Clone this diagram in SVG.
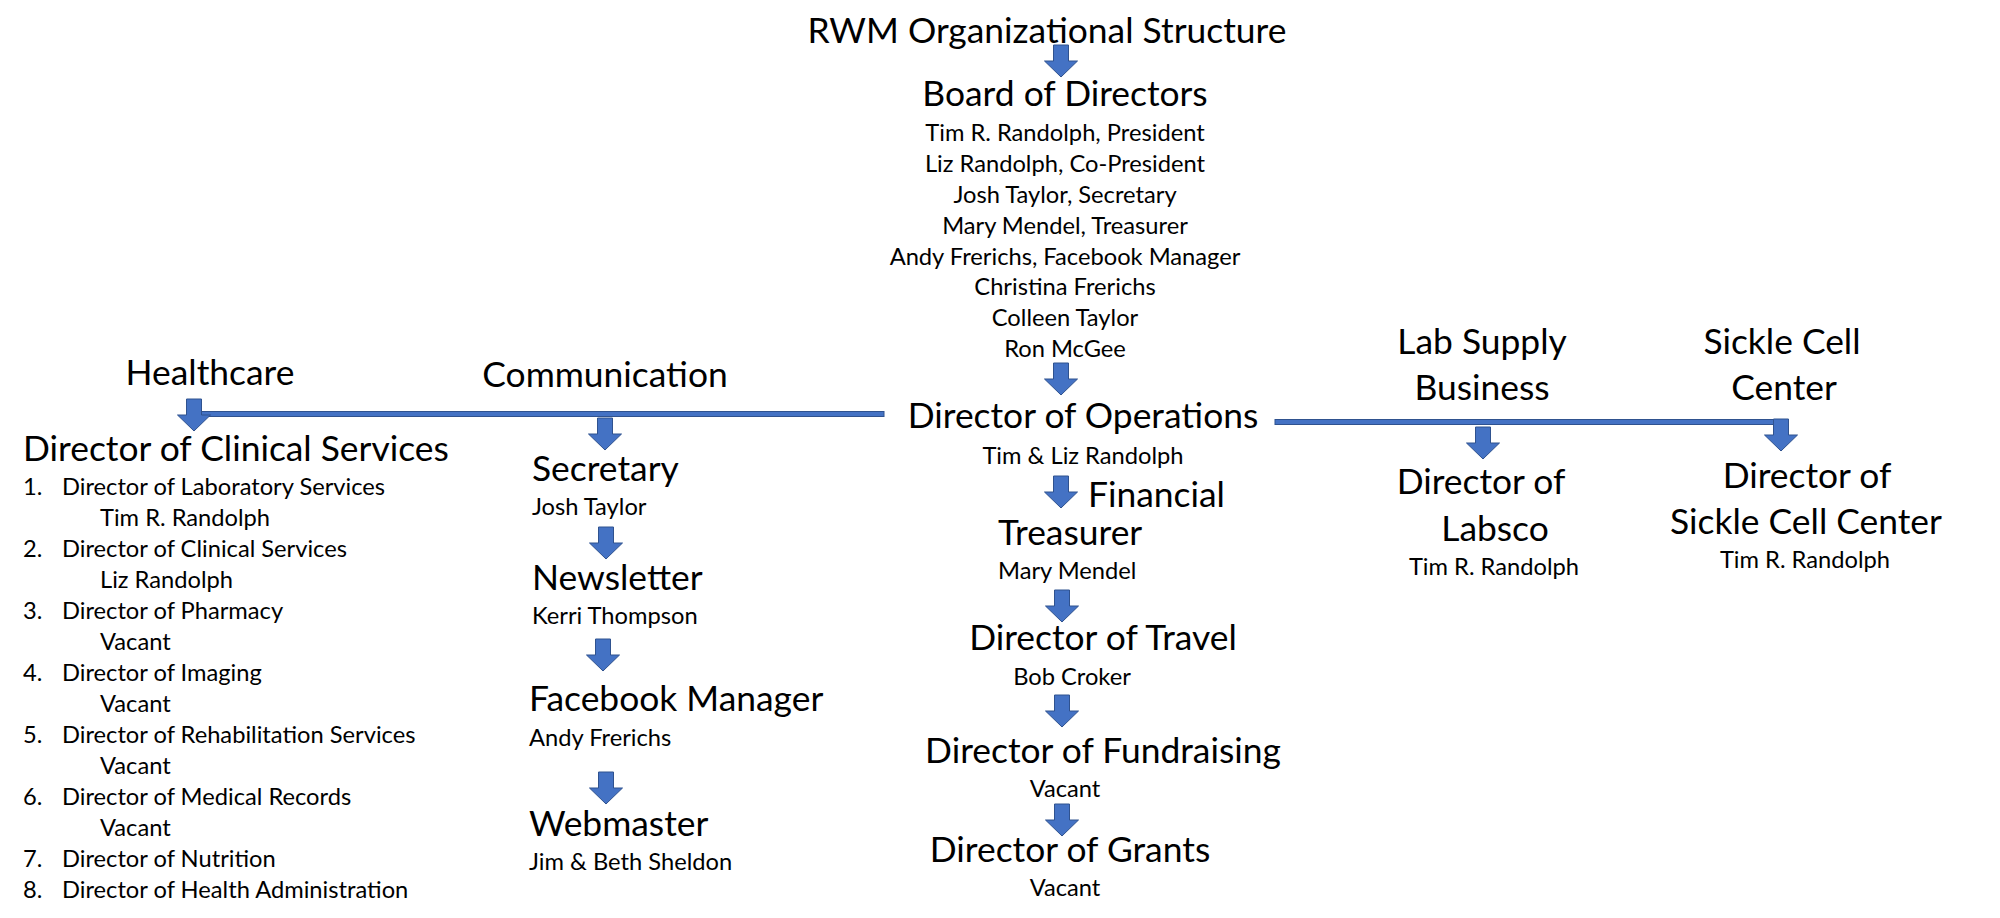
<svg xmlns="http://www.w3.org/2000/svg" width="2000" height="918" viewBox="0 0 2000 918">
<style>
text{font-family:Lato,"Open Sans","Liberation Sans",sans-serif;fill:#000}
.h{font-size:35.4px}
.s{font-size:23.7px}
.m{text-anchor:middle}
.bar{fill:#4472C4;stroke:#2F528F;stroke-width:1}
</style>
<defs>
<path id="arr" d="M-7.5,0 H7.5 V16 H16.5 L0,32 L-16.5,16 H-7.5 Z" fill="#4472C4" stroke="#2F528F" stroke-width="1"/>
</defs>
<rect width="2000" height="918" fill="#fff"/>
<g id="connectors">
<rect class="bar" x="195" y="411.5" width="689" height="5"/>
<rect class="bar" x="1275" y="419.5" width="510" height="5"/>
<use href="#arr" x="1061" y="45"/>
<use href="#arr" x="1061" y="363"/>
<use href="#arr" x="194" y="399"/>
<use href="#arr" x="605" y="418"/>
<use href="#arr" x="606" y="527"/>
<use href="#arr" x="603" y="639"/>
<use href="#arr" x="606" y="772"/>
<use href="#arr" x="1061" y="476"/>
<use href="#arr" x="1062" y="590"/>
<use href="#arr" x="1062" y="695"/>
<use href="#arr" x="1062" y="804"/>
<use href="#arr" x="1483" y="427"/>
<use href="#arr" x="1781" y="419"/>
</g>
<g id="title"><text class="h m" x="1047" y="43">RWM Organizational Structure</text></g>
<g id="board">
<text class="h m" x="1065" y="106">Board of Directors</text>
<text class="s m" x="1065" y="141">Tim R. Randolph, President</text>
<text class="s m" x="1065" y="172">Liz Randolph, Co-President</text>
<text class="s m" x="1065" y="203">Josh Taylor, Secretary</text>
<text class="s m" x="1065" y="234">Mary Mendel, Treasurer</text>
<text class="s m" x="1065" y="265">Andy Frerichs, Facebook Manager</text>
<text class="s m" x="1065" y="295">Christina Frerichs</text>
<text class="s m" x="1065" y="326">Colleen Taylor</text>
<text class="s m" x="1065" y="357">Ron McGee</text>
</g>
<g id="operations">
<text class="h m" x="1083" y="428">Director of Operations</text>
<text class="s m" x="1083" y="464">Tim &amp; Liz Randolph</text>
</g>
<g id="treasurer">
<text class="h" x="1088" y="507">Financial</text>
<text class="h" x="998" y="545">Treasurer</text>
<text class="s" x="998" y="579">Mary Mendel</text>
</g>
<g id="travel">
<text class="h m" x="1103" y="650">Director of Travel</text>
<text class="s m" x="1072" y="685">Bob Croker</text>
</g>
<g id="fundraising">
<text class="h m" x="1103" y="763">Director of Fundraising</text>
<text class="s m" x="1065" y="797">Vacant</text>
</g>
<g id="grants">
<text class="h m" x="1070" y="862">Director of Grants</text>
<text class="s m" x="1065" y="896">Vacant</text>
</g>
<g id="healthcare"><text class="h m" x="210" y="385">Healthcare</text></g>
<g id="clinical">
<text class="h" x="23" y="461">Director of Clinical Services</text>
<text class="s" x="23" y="495">1.</text><text class="s" x="62" y="495">Director of Laboratory Services</text>
<text class="s" x="100" y="526">Tim R. Randolph</text>
<text class="s" x="23" y="557">2.</text><text class="s" x="62" y="557">Director of Clinical Services</text>
<text class="s" x="100" y="588">Liz Randolph</text>
<text class="s" x="23" y="619">3.</text><text class="s" x="62" y="619">Director of Pharmacy</text>
<text class="s" x="100" y="650">Vacant</text>
<text class="s" x="23" y="681">4.</text><text class="s" x="62" y="681">Director of Imaging</text>
<text class="s" x="100" y="712">Vacant</text>
<text class="s" x="23" y="743">5.</text><text class="s" x="62" y="743">Director of Rehabilitation Services</text>
<text class="s" x="100" y="774">Vacant</text>
<text class="s" x="23" y="805">6.</text><text class="s" x="62" y="805">Director of Medical Records</text>
<text class="s" x="100" y="836">Vacant</text>
<text class="s" x="23" y="867">7.</text><text class="s" x="62" y="867">Director of Nutrition</text>
<text class="s" x="23" y="898">8.</text><text class="s" x="62" y="898">Director of Health Administration</text>
</g>
<g id="communication"><text class="h m" x="605" y="387">Communication</text></g>
<g id="secretary">
<text class="h" x="532" y="481">Secretary</text>
<text class="s" x="532" y="515">Josh Taylor</text>
</g>
<g id="newsletter">
<text class="h" x="532" y="590">Newsletter</text>
<text class="s" x="532" y="624">Kerri Thompson</text>
</g>
<g id="facebook">
<text class="h" x="529" y="711">Facebook Manager</text>
<text class="s" x="529" y="746">Andy Frerichs</text>
</g>
<g id="webmaster">
<text class="h" x="529" y="836">Webmaster</text>
<text class="s" x="529" y="870">Jim &amp; Beth Sheldon</text>
</g>
<g id="labsupply">
<text class="h m" x="1482" y="354">Lab Supply</text>
<text class="h m" x="1482" y="400">Business</text>
</g>
<g id="labsco">
<text class="h m" x="1481" y="494">Director of</text>
<text class="h m" x="1495" y="541">Labsco</text>
<text class="s m" x="1494" y="575">Tim R. Randolph</text>
</g>
<g id="sicklecell">
<text class="h m" x="1782" y="354">Sickle Cell</text>
<text class="h m" x="1784" y="400">Center</text>
</g>
<g id="sicklecenter">
<text class="h m" x="1807" y="488">Director of</text>
<text class="h m" x="1806" y="534">Sickle Cell Center</text>
<text class="s m" x="1805" y="568">Tim R. Randolph</text>
</g>
</svg>
